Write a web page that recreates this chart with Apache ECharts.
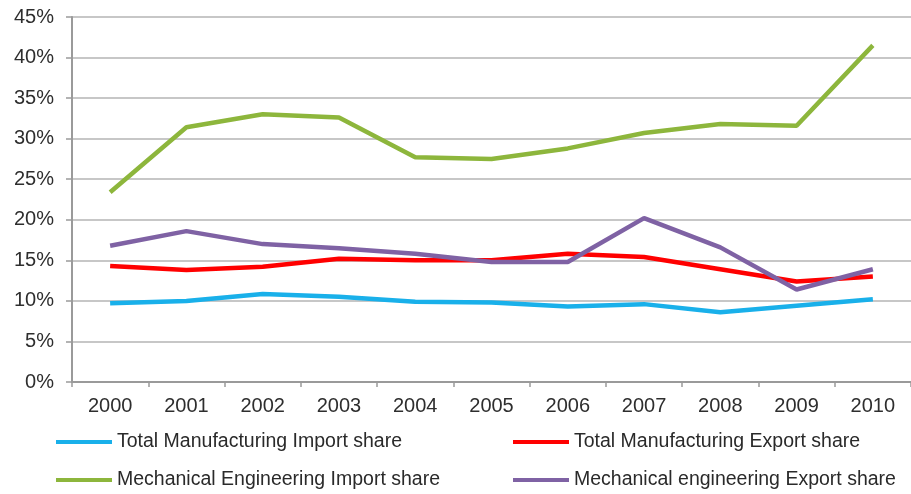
<!DOCTYPE html>
<html>
<head>
<meta charset="utf-8">
<script src="https://cdn.jsdelivr.net/npm/echarts@6/dist/echarts.min.js"></script>
<style>
  html, body { margin: 0; padding: 0; background: #fff; }
  #chart { width: 911px; height: 494px; }
</style>
</head>
<body>
<div id="chart"></div>
<script>
// Years on the category axis
const years = ['2000', '2001', '2002', '2003', '2004', '2005', '2006', '2007', '2008', '2009', '2010'];

// Shares in percent
const totalMfgImport = [9.7, 10.0, 10.85, 10.5, 9.9, 9.8, 9.3, 9.6, 8.6, 9.4, 10.2];
const totalMfgExport = [14.3, 13.8, 14.2, 15.2, 15.0, 15.0, 15.8, 15.4, 13.9, 12.4, 13.0];
const mechEngImport = [23.4, 31.4, 33.0, 32.6, 27.7, 27.5, 28.8, 30.7, 31.8, 31.6, 41.5];
const mechEngExport = [16.8, 18.6, 17.0, 16.5, 15.8, 14.8, 14.8, 20.2, 16.6, 11.4, 13.9];

const seriesNames = [
  'Total Manufacturing Import share',
  'Total Manufacturing Export share',
  'Mechanical Engineering Import share',
  'Mechanical engineering Export share'
];
const seriesColors = ['#19b0ea', '#ff0000', '#8db63c', '#7f62a4'];
const seriesData = [totalMfgImport, totalMfgExport, mechEngImport, mechEngExport];

// Legend slots: two columns, two rows
const legendLeft = [56, 513, 56, 513];
const legendTop = [432, 432, 470, 470];

const chart = echarts.init(document.getElementById('chart'), null, { renderer: 'canvas' });

const legends = seriesNames.map((name, i) => ({
  data: [name],
  left: legendLeft[i],
  top: legendTop[i],
  icon: 'rect',
  itemWidth: 56,
  itemHeight: 4,
  selectedMode: false,
  padding: 0,
  textStyle: {
    fontFamily: '"Liberation Sans", Arial, sans-serif',
    fontSize: 19.5,
    lineHeight: 20,
    color: '#2a2a2a'
  }
}));

chart.setOption({
  animation: false,
  grid: { left: 72, right: -8, top: 17, bottom: 112 },
  legend: legends,
  xAxis: {
    type: 'category',
    data: years,
    boundaryGap: true,
    axisLine: { lineStyle: { color: '#9a9a9a', width: 2 } },
    axisTick: { show: true, length: 5, lineStyle: { color: '#9a9a9a', width: 1.5 } },
    axisLabel: {
      margin: 14,
      fontFamily: '"Liberation Sans", Arial, sans-serif',
      fontSize: 20,
      color: '#2e2e2e'
    }
  },
  yAxis: {
    type: 'value',
    min: 0,
    max: 45,
    interval: 5,
    axisLine: { show: true, lineStyle: { color: '#9a9a9a', width: 2 } },
    axisTick: { show: true, length: 6, lineStyle: { color: '#9a9a9a', width: 1.5 } },
    splitLine: { show: true, lineStyle: { color: '#b4b4b4', width: 1.5 } },
    axisLabel: {
      margin: 18,
      formatter: '{value}%',
      fontFamily: '"Liberation Sans", Arial, sans-serif',
      fontSize: 20,
      color: '#2e2e2e'
    }
  },
  series: seriesNames.map((name, i) => ({
    name: name,
    type: 'line',
    data: seriesData[i],
    symbol: 'none',
    smooth: false,
    color: seriesColors[i],
    lineStyle: { color: seriesColors[i], width: 4.5 },
    z: i === 3 ? 5 : 3
  }))
});
</script>
</body>
</html>
